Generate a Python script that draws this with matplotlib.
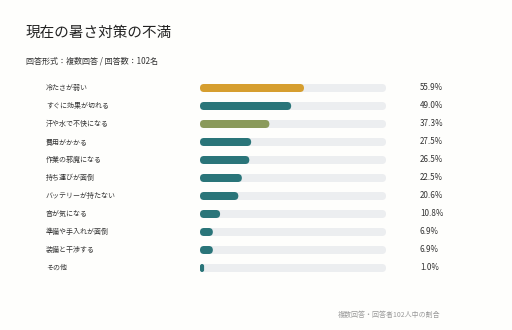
import matplotlib.pyplot as plt
import matplotlib.transforms as mtransforms
from matplotlib.patches import FancyBboxPatch

plt.rcParams['font.family'] = ['Noto Sans CJK JP', 'DejaVu Sans']

# 現在の暑さ対策の不満 (複数回答, n=102)
labels = ['冷たさが弱い', 'すぐに効果が切れる', '汗や水で不快になる', '費用がかかる',
          '作業の邪魔になる', '持ち運びが面倒', 'バッテリーが持たない', '音が気になる',
          '準備や手入れが面倒', '装備と干渉する', 'その他']
values = [55.9, 49.0, 37.3, 27.5, 26.5, 22.5, 20.6, 10.8, 6.9, 6.9, 1.0]
colors = ['#D69E2E', '#2A7579', '#8A9A5B', '#2A7579', '#2A7579', '#2A7579',
          '#2A7579', '#2A7579', '#2A7579', '#2A7579', '#2A7579']

bg = '#FEFEFC'
W, H = 512, 330
fig = plt.figure(figsize=(W / 100, H / 100), dpi=100, facecolor=bg)

# bar area: x 200..386 px, rows 18 px apart starting at y=88
ax_w, ax_h = 186, 198
ax = fig.add_axes([200 / W, (H - 277) / H, ax_w / W, ax_h / H])
ax.set_facecolor(bg)
ax.set_xlim(0, 100)
ax.set_ylim(len(labels) - 0.5, -0.5)
ax.axis('off')

bar_px = 8
xu = 100 / ax_w          # data x units per px
yu = len(labels) / ax_h  # data y units per px
bh = bar_px * yu
rad = bar_px / 2 * xu
aspect = yu / xu


def pill(x0, width, y, color, z):
    rs = min(rad, width / 2)
    p = FancyBboxPatch((x0, y - bh / 2), width, bh,
                       boxstyle=f'round,pad=0,rounding_size={rs}',
                       mutation_aspect=aspect, fc=color, ec='none', zorder=z)
    ax.add_patch(p)


for i, (v, c) in enumerate(zip(values, colors)):
    pill(0, 100, i, '#ECEEF0', 1)
    pill(0, max(v, 2.2), i, c, 2)

trans = mtransforms.blended_transform_factory(fig.transFigure, ax.transData)
for i, (lab, v) in enumerate(zip(labels, values)):
    ax.text(46 / W, i, lab, transform=trans, ha='left', va='center',
            fontsize=5, color='#333333')
    ax.text(420 / W, i, f'{v:.1f}%', transform=trans, ha='left', va='center',
            fontsize=5.8, color='#333333')

fig.text(26 / W, 1 - 33 / H, '現在の暑さ対策の不満', fontsize=10.5, color='#222222',
         ha='left', va='center')
fig.text(26 / W, 1 - 61 / H, '回答形式：複数回答 / 回答数：102名', fontsize=5.8,
         color='#333333', ha='left', va='center')
fig.text(440 / W, 1 - 315 / H, '複数回答・回答者102人中の割合', fontsize=5,
         color='#999999', ha='right', va='center')

fig.savefig('out.png', dpi=100, facecolor=bg)
